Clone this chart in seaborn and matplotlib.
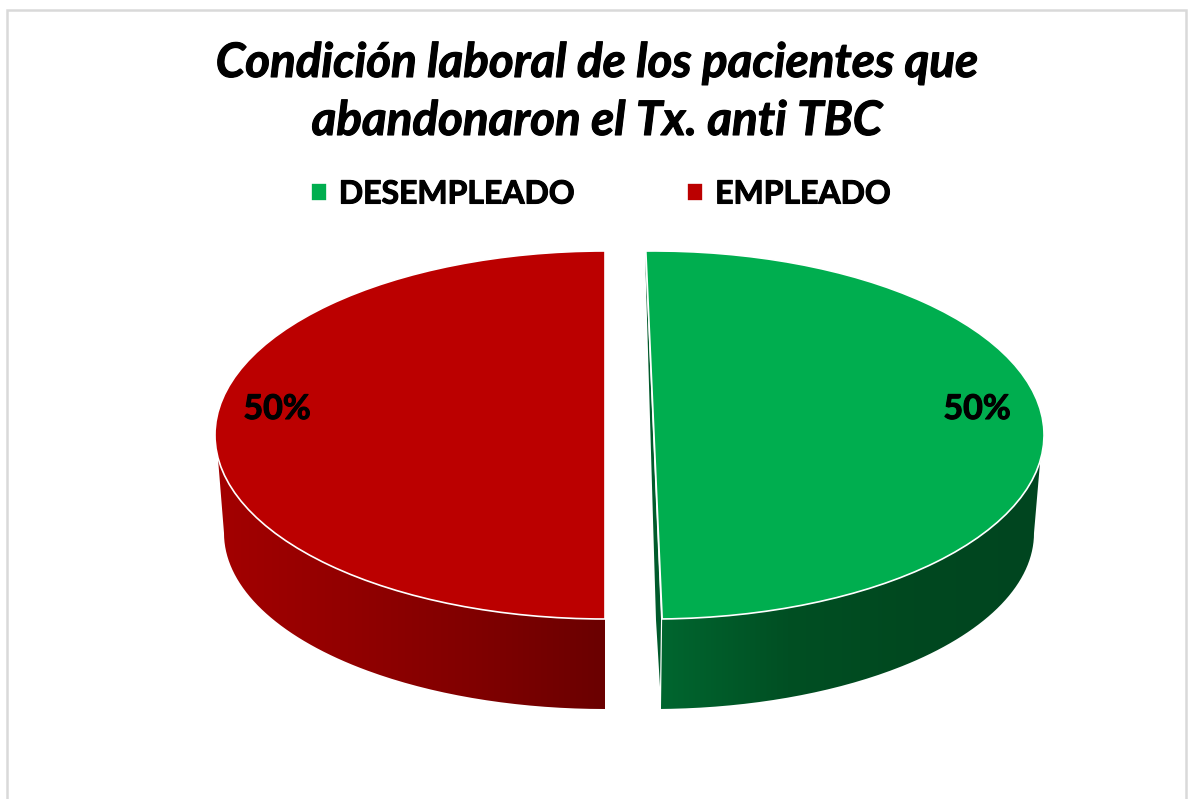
import numpy as np
import matplotlib
matplotlib.use('Agg')
import matplotlib.pyplot as plt
import matplotlib.patheffects as pe
from matplotlib.patches import PathPatch, Rectangle
from matplotlib.path import Path
import seaborn as sns

title_lines = ['Condición laboral de los pacientes que', 'abandonaron el Tx. anti TBC']
categories = ['DESEMPLEADO', 'EMPLEADO']
values = [50, 50]

W, H = 1188, 799
RX, RY = 390, 184

sns.set_theme(style='white')
plt.rcParams['font.family'] = ['Lato', 'DejaVu Sans']

# Lato Bold comes out lighter than the reference, so thicken it a little
thick = [pe.withStroke(linewidth=0.8, foreground='black')]


def px(x, y):
    # picture pixels to axes units (one unit = pie radius)
    return np.asarray(x) / RX, (H - np.asarray(y)) / RY


def arc(cx, cy, rx, ry, t0, t1):
    t = np.radians(np.linspace(t0, t1, 120))
    return cx + rx * np.cos(t), cy - ry * np.sin(t)


def side(ax, top, bottom, colors):
    xs = np.concatenate([top[0], bottom[0][::-1]])
    ys = np.concatenate([top[1], bottom[1][::-1]])
    dx, dy = px(xs, ys)
    clip = PathPatch(Path(np.column_stack([dx, dy]), closed=False), fc='none', ec='none',
                     transform=ax.transData)
    ax.add_patch(clip)
    cmap = sns.blend_palette(colors, n_colors=256, as_cmap=True)
    im = ax.imshow(np.linspace(0, 1, 256)[None, :], cmap=cmap, aspect='auto', zorder=0,
                   extent=(dx.min(), dx.max(), dy.min(), dy.max()))
    im.set_clip_path(clip)


fig = plt.figure(figsize=(W / 100, H / 100), dpi=100)
ax = fig.add_axes([0, 0, 1, 1])

# side walls
side(ax, arc(605, 435, 390, 184, -90, -173), arc(605, 533, 381, 176, -90, -180),
     ['#a30000', '#920000', '#800000', '#6a0000'])
side(ax, arc(654, 435, 390, 184, -88.8, -8), arc(653, 533, 381, 176, -88.8, 0),
     ['#00662f', '#004f23', '#00481f', '#004520'])

# thin cut face of the green slice
ax.fill(*px([645, 656, 660, 661, 661], [251, 620, 687, 620, 619]), color='#005a2b', lw=0, zorder=1)

# top faces
handles = []
starts = [-88.8, 90]
centers = [(654, 435), (605, 435)]
colors = ['#00ae4f', '#bb0000']
for v, start, c, col in zip(values, starts, centers, colors):
    wedges, _ = ax.pie([v / 100], normalize=False, startangle=start, center=px(*c), radius=1,
                       colors=[col], wedgeprops=dict(edgecolor='white', linewidth=1.2, zorder=2))
    handles.append(wedges[0])

ax.set_aspect('auto')
ax.set_xlim(0, W / RX)
ax.set_ylim(0, H / RY)
ax.axis('off')

ax.text(*px(277, 409), f'{values[1]}%', ha='center', va='center', fontsize=24.5,
        fontweight='bold', color='black', zorder=3, path_effects=thick)
ax.text(*px(977, 409), f'{values[0]}%', ha='center', va='center', fontsize=24.5,
        fontweight='bold', color='black', zorder=3, path_effects=thick)

for line, y in zip(title_lines, [63, 121]):
    fig.text(597 / W, 1 - y / H, line, ha='center', va='center', fontsize=34.2,
             fontweight='bold', fontstyle='italic', color='black', path_effects=thick)

leg = fig.legend(handles, categories, ncol=2, loc='center', bbox_to_anchor=(601 / W, 1 - 194 / H),
                 frameon=False, handlelength=0.5, handleheight=0.5,
                 handletextpad=0.38, columnspacing=3.5, prop=dict(weight='bold', size=23))
for t in leg.get_texts():
    t.set_color('black')
    t.set_path_effects(thick)

# chart frame, bottom runs off the picture
fig.add_artist(Rectangle((7 / W, -0.02), 1179 / W, 1.02 - 10 / H, transform=fig.transFigure,
                         fill=False, ec='#d9d9d9', lw=1.8))

fig.savefig('out.png', dpi=100, facecolor='white')
